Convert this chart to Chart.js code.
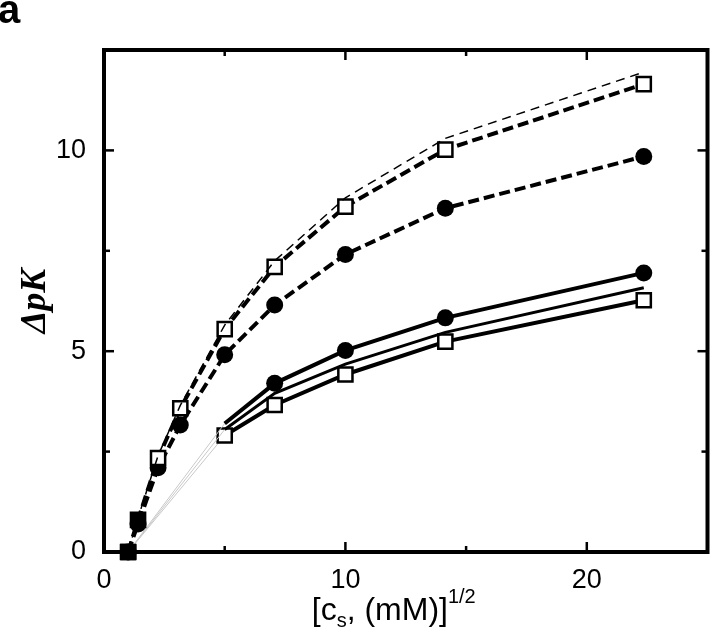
<!DOCTYPE html>
<html><head><meta charset="utf-8">
<script src="https://cdn.jsdelivr.net/npm/chart.js@4/dist/chart.umd.min.js"></script>
<style>html,body{margin:0;padding:0;background:#fff}#wrap{width:720px;height:639px;position:relative}canvas{display:block}</style>
</head><body><div id="wrap"><canvas id="c" width="720" height="639"></canvas></div>
<script>
// ---- data ----
const xValues       = [1, 1.41, 2.24, 3.16, 5, 7.07, 10, 14.14, 22.36];
const dashedSquares = [0, 0.8, 2.34, 3.58, 5.55, 7.1, 8.6, 10.02, 11.65];
const dashedThin    = [0, 0.85, 2.4, 3.65, 5.65, 7.25, 8.82, 10.3, 11.95];
const dashedCircles = [0, 0.7, 2.1, 3.16, 4.91, 6.15, 7.41, 8.56, 9.85];
const xSolid        = [1, 5, 7.07, 10, 14.14, 22.36];
const solidCircles  = [0, 3.2, 4.2, 5.02, 5.83, 6.95];
const solidThin     = [0, 3.05, 3.95, 4.68, 5.47, 6.58];
const solidSquares  = [0, 2.9, 3.66, 4.42, 5.24, 6.27];
const xTickLabels = [0, 10, 20];
const yTickLabels = [0, 5, 10];
const xMinor = [5, 15];
const yMinor = [2.5, 7.5];
const origin = [{x: 1, y: 0}];

const pts = (xs, ys) => xs.map((x, i) => ({x, y: ys[i]}));
const faintFirst = {
  borderColor: c => c.p0DataIndex === 0 ? '#c8c8c8' : undefined,
  borderWidth: c => c.p0DataIndex === 0 ? 1 : undefined
};

const framePlugin = {
  id: 'frame',
  afterDatasetsDraw(chart) {
    const {ctx, chartArea: {left, right, top, bottom}, scales: {x, y}} = chart;
    ctx.save();
    ctx.strokeStyle = '#000';
    ctx.lineWidth = 4;
    ctx.strokeRect(left, top, right - left, bottom - top);
    ctx.lineWidth = 2.5;
    const seg = (a, b, c, d) => { ctx.beginPath(); ctx.moveTo(a, b); ctx.lineTo(c, d); ctx.stroke(); };
    xTickLabels.filter(v => v > 0).forEach(v => { const p = x.getPixelForValue(v); seg(p, bottom, p, bottom - 10); seg(p, top, p, top + 10); });
    xMinor.forEach(v => { const p = x.getPixelForValue(v); seg(p, bottom, p, bottom - 6); seg(p, top, p, top + 6); });
    yTickLabels.filter(v => v > 0).forEach(v => { const p = y.getPixelForValue(v); seg(left, p, left + 10, p); seg(right, p, right - 10, p); });
    yMinor.forEach(v => { const p = y.getPixelForValue(v); seg(left, p, left + 6, p); seg(right, p, right - 6, p); });
    ctx.restore();
  },
  afterDraw(chart) {
    const {ctx, scales: {x}} = chart;
    ctx.save();
    ctx.fillStyle = '#000';
    ctx.textBaseline = 'alphabetic';
    ctx.font = 'bold 40px "Liberation Sans"';
    ctx.textAlign = 'left';
    ctx.fillText('a', -2, 23);
    const big = '32px "Liberation Sans"', small = '20px "Liberation Sans"';
    const parts = [['[c', big, 0], ['s', small, 7], [', (mM)]', big, 0], ['1/2', small, -17]];
    let w = 0;
    parts.forEach(p => { ctx.font = p[1]; w += ctx.measureText(p[0]).width; });
    let cx = (x.left + x.right) / 2 - w / 2 - 12;
    const base = 620;
    parts.forEach(p => { ctx.font = p[1]; ctx.fillText(p[0], cx, base + p[2]); cx += ctx.measureText(p[0]).width; });
    ctx.restore();
  }
};

new Chart(document.getElementById('c'), {
  type: 'line',
  data: {
    datasets: [
      {data: pts(xValues, dashedThin), borderColor: '#000', borderWidth: 1.5, borderDash: [9, 6], pointRadius: 0, clip: false},
      {data: pts(xValues, dashedSquares), borderColor: '#000', borderWidth: 4, borderDash: [11, 5], pointStyle: 'rect', pointRadius: 10, pointBorderWidth: 2.5, pointBorderColor: '#000', pointBackgroundColor: xValues.map((v, i) => i < 2 ? '#000' : '#fff'), clip: false},
      {data: pts(xValues, dashedCircles), borderColor: '#000', borderWidth: 4, borderDash: [11, 5], pointStyle: 'circle', pointRadius: 8.5, pointBorderWidth: 0, pointBackgroundColor: '#000', clip: false},
      {data: pts(xSolid, solidThin), borderColor: '#000', borderWidth: 3, pointRadius: 0, segment: faintFirst, clip: false},
      {data: pts(xSolid, solidCircles), borderColor: '#000', borderWidth: 4, pointStyle: 'circle', pointRadius: xSolid.map((v, i) => i < 2 ? 0 : 8.5), pointBorderWidth: 0, pointBackgroundColor: '#000', segment: faintFirst, clip: false},
      {data: pts(xSolid, solidSquares), borderColor: '#000', borderWidth: 4, pointStyle: 'rect', pointRadius: xSolid.map((v, i) => i < 1 ? 0 : 10), pointBorderWidth: 2.5, pointBorderColor: '#000', pointBackgroundColor: '#fff', segment: faintFirst, clip: false},
      {data: origin, showLine: false, pointStyle: 'rect', pointRadius: 11, pointBorderWidth: 1, pointBorderColor: '#000', pointBackgroundColor: '#000', clip: false}
    ]
  },
  options: {
    responsive: false,
    animation: false,
    devicePixelRatio: 1,
    layout: {padding: {left: 0, right: 5, top: 50, bottom: 0}},
    plugins: {legend: {display: false}, tooltip: {enabled: false}, title: {display: false}},
    elements: {line: {tension: 0, borderCapStyle: 'butt'}},
    scales: {
      x: {
        type: 'linear', min: 0, max: 25,
        afterBuildTicks: s => { s.ticks = xTickLabels.map(v => ({value: v})); },
        afterFit: s => { s.height = 87; },
        grid: {display: false, drawTicks: false},
        border: {display: false},
        ticks: {color: '#000', padding: 12, font: {family: '"Liberation Sans"', size: 27}},
        title: {display: false}
      },
      y: {
        type: 'linear', min: 0, max: 12.5,
        afterBuildTicks: s => { s.ticks = yTickLabels.map(v => ({value: v})); },
        afterFit: s => { s.width = 104; },
        grid: {display: false, drawTicks: false},
        border: {display: false},
        ticks: {color: '#000', padding: 18, font: {family: '"Liberation Sans"', size: 27}},
        title: {display: true, text: 'ΔpK', color: '#000', padding: {top: 14}, font: {family: '"Liberation Serif"', size: 36, style: 'italic', weight: 'bold', lineHeight: 1.2}}
      }
    }
  },
  plugins: [framePlugin]
});
</script></body></html>
